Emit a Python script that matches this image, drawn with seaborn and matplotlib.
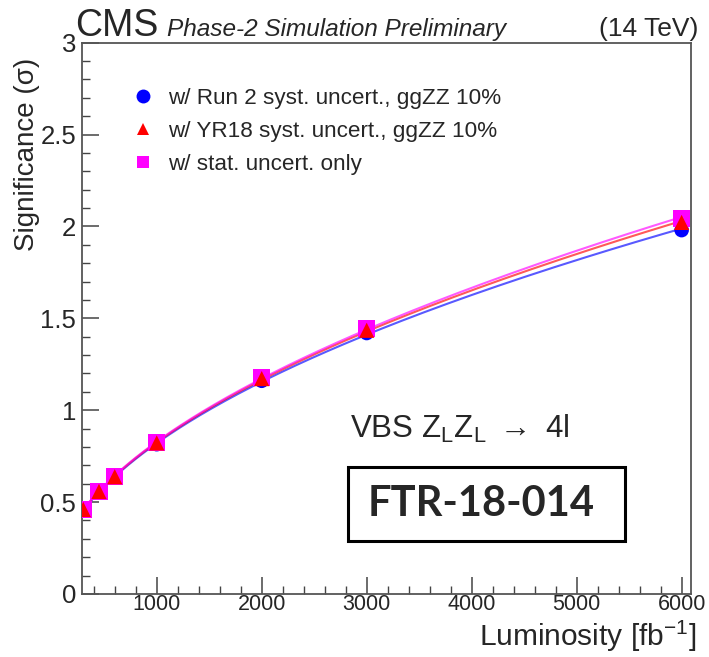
import numpy as np
import pandas as pd
import matplotlib
matplotlib.use("Agg")
import matplotlib.pyplot as plt
from matplotlib.lines import Line2D
from matplotlib.patches import Rectangle
from matplotlib.ticker import MultipleLocator, FuncFormatter
import seaborn as sns

# Integrated luminosity points [fb^-1] and expected significance for each scenario
lumi = [300, 450, 600, 1000, 2000, 3000, 6000]
sig_run2 = [0.455, 0.555, 0.635, 0.815, 1.160, 1.420, 1.980]
sig_yr18 = [0.460, 0.558, 0.638, 0.822, 1.172, 1.435, 2.022]
sig_stat = [0.462, 0.560, 0.640, 0.826, 1.180, 1.442, 2.045]

labels = [
    "w/ Run 2 syst. uncert., ggZZ 10%",
    "w/ YR18 syst. uncert., ggZZ 10%",
    "w/ stat. uncert. only",
]
colors = ["#0000ff", "#ff0000", "#ff00ff"]
markers = ["o", "^", "s"]
marker_sizes = [110, 120, 150]
marker_z = [3, 5, 4]
series = [sig_run2, sig_yr18, sig_stat]

sns.set_style("ticks")
plt.rcParams["font.family"] = ["Liberation Sans", "DejaVu Sans"]
plt.rcParams["mathtext.fontset"] = "custom"
plt.rcParams["mathtext.rm"] = "Liberation Sans"
plt.rcParams["mathtext.it"] = "Liberation Sans:italic"

fig = plt.figure(figsize=(7.09, 6.57), dpi=100)
ax = fig.add_axes([0.1152, 0.096, 0.8595, 0.839])

x = np.asarray(lumi, dtype=float)
grid = np.geomspace(x.min(), x.max(), 200)

# smooth fit curves (quadratic in log-log space) drawn under the markers
for vals, col in zip(series, colors):
    coef = np.polyfit(np.log(x), np.log(vals), 2)
    fit = np.exp(np.polyval(coef, np.log(grid)))
    sns.lineplot(x=grid, y=fit, color=col, lw=1.5, alpha=0.65, ax=ax,
                 sort=False, legend=False, zorder=2)

for vals, col, m, s, z in zip(series, colors, markers, marker_sizes, marker_z):
    df = pd.DataFrame({"lumi": lumi, "sig": vals})
    sns.scatterplot(data=df, x="lumi", y="sig", marker=m, s=s, color=col,
                    edgecolor="none", linewidth=0, ax=ax, legend=False, zorder=z)

ax.set_xlim(285, 6090)
ax.set_ylim(0, 3)
ax.xaxis.set_major_locator(MultipleLocator(1000))
ax.xaxis.set_minor_locator(MultipleLocator(200))
ax.yaxis.set_major_locator(MultipleLocator(0.5))
ax.yaxis.set_minor_locator(MultipleLocator(0.1))
ax.yaxis.set_major_formatter(FuncFormatter(lambda v, p: f"{v:g}"))
ax.tick_params(axis="both", which="major", direction="in", length=12, width=1.1,
               color="#444444", top=False, right=False)
ax.tick_params(axis="both", which="minor", direction="in", length=6, width=1.0,
               color="#444444", top=False, right=False)
ax.tick_params(axis="x", which="major", pad=0, labelsize=15.5)
ax.tick_params(axis="y", which="major", pad=4, labelsize=18.5)
for sp in ax.spines.values():
    sp.set_color("#555555")
    sp.set_linewidth(1.3)
ax.set_xlabel("")
ax.set_ylabel("")

# axis titles
fig.text(27 / 709, 1 - 58 / 657, "Significance (σ)", rotation=90,
         ha="center", va="top", fontsize=20)
fig.text(696 / 709, 1 - 646 / 657, "Luminosity [fb$^{-1}$]",
         ha="right", va="baseline", fontsize=21.5)

# header
fig.text(75 / 709, 1 - 36 / 657, "CMS", fontsize=27, ha="left", va="baseline")
fig.text(167 / 709, 1 - 36 / 657, "Phase-2 Simulation Preliminary", fontsize=17.6,
         style="italic", ha="left", va="baseline")
fig.text(698 / 709, 1 - 36 / 657, "(14 TeV)", fontsize=19, ha="right", va="baseline")

# legend
handles = [
    Line2D([], [], ls="none", marker=m, color=c, markeredgewidth=0, markersize=ms)
    for m, c, ms in zip(markers, colors, [10, 9, 9])
]
ax.legend(handles, labels, loc="upper left", bbox_to_anchor=(0.068, 0.935),
          frameon=False, fontsize=16.2, handletextpad=0.6, labelspacing=0.55,
          handlelength=1.0, borderaxespad=0)

# process label and analysis reference box
ax.text(0.440, 0.300, "VBS Z$_{\\rm L}$Z$_{\\rm L}$ $\\rightarrow$ 4l",
        transform=ax.transAxes, fontsize=22.5, ha="left", va="center")
ax.add_patch(Rectangle((0.437, 0.096), 0.455, 0.134, transform=ax.transAxes,
                       fill=False, ec="black", lw=2.2, zorder=6))
ax.text(0.6556, 0.163, "FTR-18-014", transform=ax.transAxes, fontsize=30,
        fontfamily="Lato", fontweight="bold", ha="center", va="center", zorder=7)

fig.savefig("out.png", dpi=100)
